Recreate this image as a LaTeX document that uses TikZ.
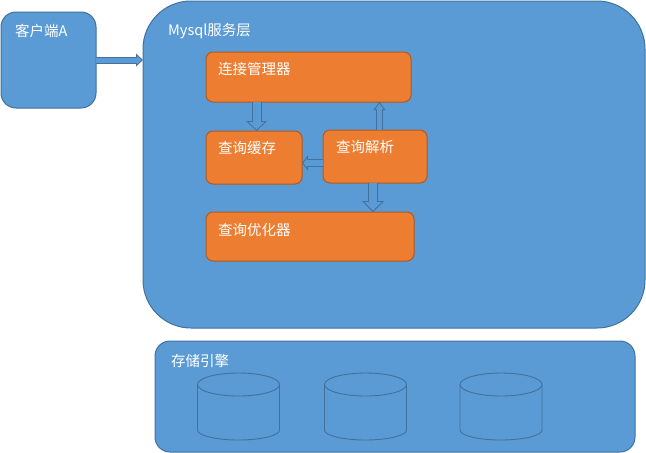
\documentclass[tikz,border=0pt]{standalone}
\usepackage{fontspec}
\setmainfont{Noto Sans CJK SC}
\usetikzlibrary{arrows.meta,positioning,calc}
\definecolor{CapaAzul}{RGB}{91,155,213}
\definecolor{BordeAzul}{RGB}{65,113,156}
\definecolor{ModNaranja}{RGB}{237,125,49}
\definecolor{BordeNaranja}{RGB}{174,90,33}
\tikzset{
  capabox/.style={draw=BordeAzul, line width=1pt, fill=CapaAzul, rounded corners=#1,
    anchor=north west, inner sep=0pt, outer sep=0pt},
  capabox/.default=15pt,
  modbox/.style={draw=BordeNaranja, line width=1pt, fill=ModNaranja, rounded corners=7pt,
    anchor=north west, inner sep=0pt, outer sep=0pt},
  etiqueta/.style={text=white, font=\fontsize{14.5}{17}\selectfont, anchor=west, inner sep=0pt},
  discoline/.style={draw=BordeAzul, line width=0.9pt},
}
% flecha de bloque: origen, destino, ancho, ancho punta, largo punta
\newcommand{\flecha}[5]{%
  \pgfmathsetmacro{\inset}{1/sin(atan2(#4/2,#5))}%
  \pgfmathsetmacro{\lin}{#5-1-\inset}%
  \pgfmathsetmacro{\win}{#4*\lin/#5}%
  \draw[BordeAzul, line width=#3pt,
    -{Triangle[length=#5pt, width=#4pt, line width=0pt 0 0]}] #1 -- #2;
  \draw[CapaAzul, line width=#3pt-2pt, shorten >=\inset pt,
    -{Triangle[length=\lin pt, width=\win pt, line width=0pt 0 0]}] #1 -- #2;
}

\begin{document}
\begin{tikzpicture}[x=1pt, y=-1pt]
  \useasboundingbox (0,0) rectangle (646,453);

  \node[capabox, minimum width=95pt, minimum height=96pt] (cliente) at (1,12) {};
  \node[etiqueta] (tcliente) at ($(cliente.north west)+(14,19)$) {客户端A};

  \node[capabox=48pt, minimum width=502pt, minimum height=327pt] (servicio) at (143,1) {};
  \node[etiqueta] (tservicio) at ($(servicio.north west)+(25,30)$) {Mysql服务层};

  \node[modbox, minimum width=205pt, minimum height=50pt] (conexion) at (206,52) {};
  \node[etiqueta] (tconexion) at ($(conexion.north west)+(12,17)$) {连接管理器};
  \node[modbox, minimum width=96pt, minimum height=53pt] (cache) at (206,131) {};
  \node[etiqueta] (tcache) at ($(cache.north west)+(12,17)$) {查询缓存};
  \node[modbox, minimum width=104pt, minimum height=53pt] (analisis) at (323,130) {};
  \node[etiqueta] (tanalisis) at ($(analisis.north west)+(13,17)$) {查询解析};
  \node[modbox, minimum width=208pt, minimum height=49pt] (optimizador) at (206,212) {};
  \node[etiqueta] (toptimizador) at ($(optimizador.north west)+(12,18)$) {查询优化器};

  \flecha{(cliente.east)}{(cliente.east -| servicio.west)}{7}{13}{7}
  \flecha{([xshift=2.5pt]cache.north |- conexion.south)}{([xshift=2.5pt]cache.north)}{10}{21}{10}
  \flecha{([xshift=4.5pt]analisis.north)}{([xshift=4.5pt]analisis.north |- conexion.south)}{7}{12}{8}
  \flecha{([yshift=-6.5pt]analisis.west)}{([yshift=-6.5pt]analisis.west -| cache.east)}{8}{15}{6}
  \flecha{([xshift=-2pt]analisis.south)}{([xshift=-2pt]analisis.south |- optimizador.north)}{10}{22}{11}

  \node[capabox, minimum width=480pt, minimum height=111pt] (almacen) at (155,341) {};
  \node[etiqueta] (talmacen) at ($(almacen.north west)+(16,20)$) {存储引擎};

  % discos del motor de almacenamiento
  \foreach \cx in {238.5,365.5,501}{
    \draw[discoline] (\cx-41,384.5) -- (\cx-41,430)
      arc[start angle=180, end angle=360, x radius=41pt, y radius=10pt] -- (\cx+41,384.5);
    \draw[discoline] (\cx,384.5) ellipse[x radius=41pt, y radius=11.5pt];
  }
\end{tikzpicture}
\end{document}
